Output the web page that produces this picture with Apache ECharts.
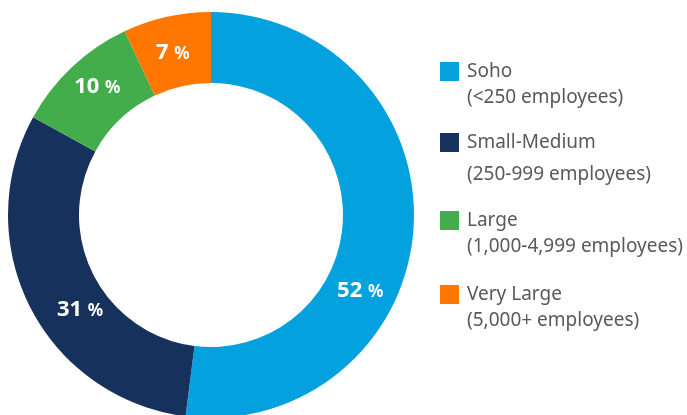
<!DOCTYPE html>
<html>
<head>
<meta charset="utf-8">
<script src="https://cdn.jsdelivr.net/npm/echarts@6/dist/echarts.min.js"></script>
<style>
html,body{margin:0;padding:0;background:#fff;}
#chart{width:687px;height:415px;}
</style>
</head>
<body>
<div id="chart"></div>
<script>
// ---- data ----
const categories = ['Soho', 'Small-Medium', 'Large', 'Very Large'];
const subLabels = ['(<250 employees)', '(250-999 employees)', '(1,000-4,999 employees)', '(5,000+ employees)'];
const shares = [52, 31, 10, 7];

// ---- styling / layout ----
const colors = ['#03A2DF', '#16315C', '#43AD4B', '#FF7600'];
const labelShift = [[-21, 65], [21, 17], [3, -4], [-1, 4]];
const legendTops = [62, 133, 211, 285];
const textColor = '#58595B';
const font = 'Noto Sans';

const chart = echarts.init(document.getElementById('chart'), null, {renderer: 'canvas'});

const legends = categories.map((name, i) => {
  const big = i === 1;
  const pt = big ? 38 : 26;
  return {
    data: [name],
    orient: 'vertical',
    left: 440,
    top: legendTops[i],
    padding: 0,
    itemWidth: 19,
    itemHeight: 19,
    icon: 'rect',
    selectedMode: false,
    formatter: n => `{a|${n}}\n{${big ? 'c' : 'b'}|${subLabels[categories.indexOf(n)]}}`,
    textStyle: {
      padding: [pt, 0, 0, 3],
      color: textColor,
      fontFamily: font,
      fontSize: 19,
      rich: {
        a: {fontFamily: font, fontSize: 19, lineHeight: 26, color: textColor},
        b: {fontFamily: font, fontSize: 19, lineHeight: 26, color: textColor},
        c: {fontFamily: font, fontSize: 19, lineHeight: 38, color: textColor}
      }
    }
  };
});

const option = {
  animation: false,
  color: colors,
  legend: legends,
  series: [{
    type: 'pie',
    center: [211, 215],
    radius: [132, 203],
    startAngle: 90,
    clockwise: true,
    avoidLabelOverlap: false,
    silent: true,
    itemStyle: {borderWidth: 0},
    label: {
      show: true,
      position: 'inner',
      color: '#fff',
      fontFamily: font,
      formatter: p => `{n|${p.value} }{p|%}`,
      rich: {
        n: {fontFamily: font, fontSize: 22, fontWeight: 'bold', color: '#fff'},
        p: {fontFamily: font, fontSize: 17, fontWeight: 'bold', color: '#fff', padding: [3, 0, 0, 0]}
      }
    },
    labelLine: {show: false},
    labelLayout: params => ({dx: labelShift[params.dataIndex][0], dy: labelShift[params.dataIndex][1]}),
    data: categories.map((c, i) => ({name: c, value: shares[i]}))
  }]
};
chart.setOption(option);
</script>
</body>
</html>
